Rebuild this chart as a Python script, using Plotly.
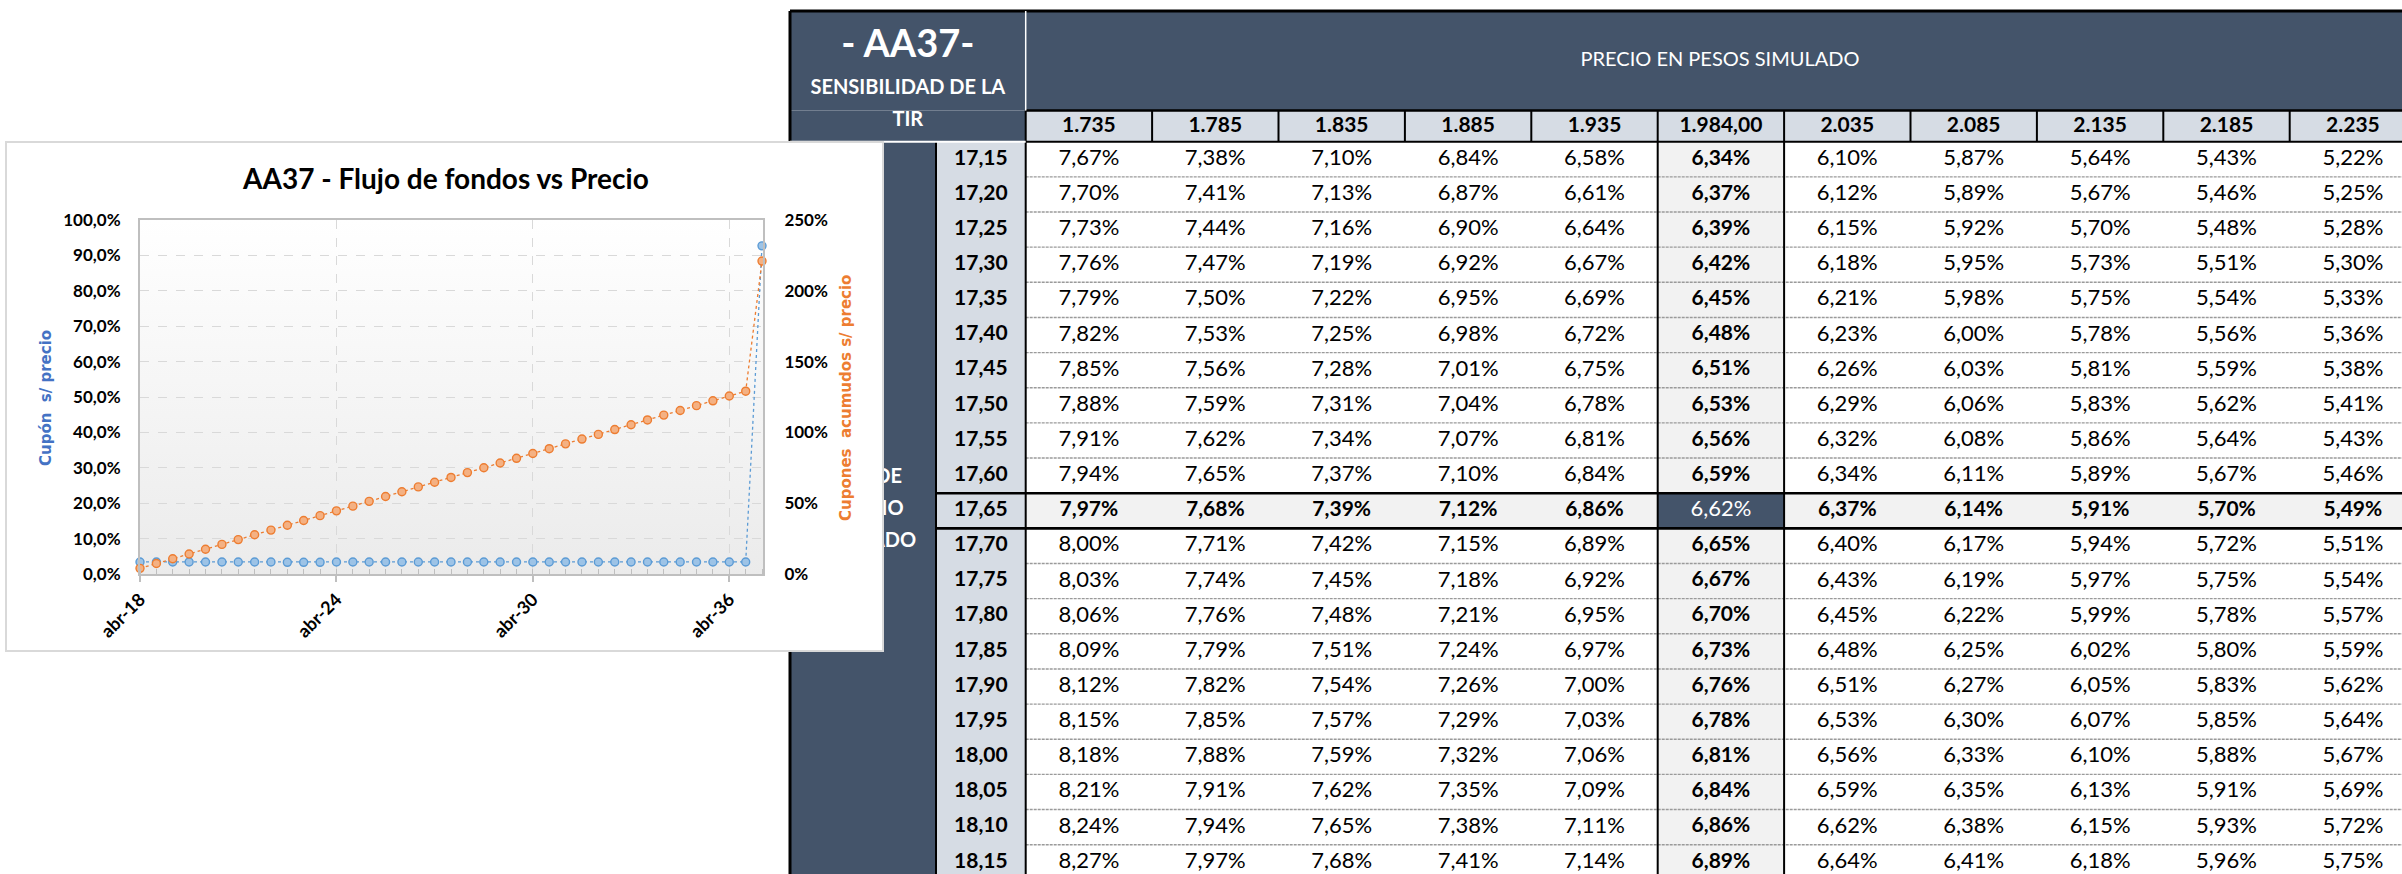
import base64
import plotly.graph_objects as go

# ------------------------------------------------------------------ chart data
fechas = [
    "2018-04-01", "2018-10-01", "2019-04-01", "2019-10-01", "2020-04-01", "2020-10-01",
    "2021-04-01", "2021-10-01", "2022-04-01", "2022-10-01", "2023-04-01", "2023-10-01",
    "2024-04-01", "2024-10-01", "2025-04-01", "2025-10-01", "2026-04-01", "2026-10-01",
    "2027-04-01", "2027-10-01", "2028-04-01", "2028-10-01", "2029-04-01", "2029-10-01",
    "2030-04-01", "2030-10-01", "2031-04-01", "2031-10-01", "2032-04-01", "2032-10-01",
    "2033-04-01", "2033-10-01", "2034-04-01", "2034-10-01", "2035-04-01", "2035-10-01",
    "2036-04-01", "2036-10-01", "2037-04-01",
]
cupon_s_precio = [
    3.4, 3.4, 3.4, 3.4, 3.4, 3.4, 3.4, 3.4, 3.4, 3.3, 3.3, 3.3, 3.4,
    3.4, 3.4, 3.4, 3.4, 3.4, 3.4, 3.4, 3.4, 3.4, 3.4, 3.4, 3.4, 3.4,
    3.4, 3.4, 3.4, 3.4, 3.4, 3.4, 3.4, 3.4, 3.4, 3.4, 3.4, 3.4, 92.7,
]
cupones_acumulados = [
    4.0, 7.4, 10.8, 14.1, 17.5, 20.9, 24.3, 27.7, 31.0, 34.4, 37.8, 41.2, 44.6,
    47.9, 51.3, 54.7, 58.1, 61.5, 64.8, 68.2, 71.6, 75.0, 78.4, 81.7, 85.1, 88.5,
    91.9, 95.3, 98.6, 102.0, 105.4, 108.8, 112.2, 115.5, 118.9, 122.3, 125.7, 129.1, 221.0,
]
x_tickvals = ["2018-04-01", "2024-04-01", "2030-04-01", "2036-04-01"]
x_ticktext = ["abr-18", "abr-24", "abr-30", "abr-36"]

chart_title = "AA37 - Flujo de fondos vs Precio"
y_left_title = "Cupón  s/ precio"
y_right_title = "Cupones  acumudos s/ precio"

# ------------------------------------------------------------------ table data
table_title = "- AA37-"
table_subtitle = ["SENSIBILIDAD DE LA", "TIR"]
col_group_title = "PRECIO EN PESOS SIMULADO"
row_group_title = ["TIPO DE", "CAMBIO", "SIMULADO"]
precios = ["1.735", "1.785", "1.835", "1.885", "1.935", "1.984,00",
           "2.035", "2.085", "2.135", "2.185", "2.235"]
tipos_cambio = ["17,15", "17,20", "17,25", "17,30", "17,35", "17,40", "17,45",
                "17,50", "17,55", "17,60", "17,65", "17,70", "17,75", "17,80",
                "17,85", "17,90", "17,95", "18,00", "18,05", "18,10", "18,15"]
tir = [
    [7.67, 7.38, 7.10, 6.84, 6.58, 6.34, 6.10, 5.87, 5.64, 5.43, 5.22],
    [7.70, 7.41, 7.13, 6.87, 6.61, 6.37, 6.12, 5.89, 5.67, 5.46, 5.25],
    [7.73, 7.44, 7.16, 6.90, 6.64, 6.39, 6.15, 5.92, 5.70, 5.48, 5.28],
    [7.76, 7.47, 7.19, 6.92, 6.67, 6.42, 6.18, 5.95, 5.73, 5.51, 5.30],
    [7.79, 7.50, 7.22, 6.95, 6.69, 6.45, 6.21, 5.98, 5.75, 5.54, 5.33],
    [7.82, 7.53, 7.25, 6.98, 6.72, 6.48, 6.23, 6.00, 5.78, 5.56, 5.36],
    [7.85, 7.56, 7.28, 7.01, 6.75, 6.51, 6.26, 6.03, 5.81, 5.59, 5.38],
    [7.88, 7.59, 7.31, 7.04, 6.78, 6.53, 6.29, 6.06, 5.83, 5.62, 5.41],
    [7.91, 7.62, 7.34, 7.07, 6.81, 6.56, 6.32, 6.08, 5.86, 5.64, 5.43],
    [7.94, 7.65, 7.37, 7.10, 6.84, 6.59, 6.34, 6.11, 5.89, 5.67, 5.46],
    [7.97, 7.68, 7.39, 7.12, 6.86, 6.62, 6.37, 6.14, 5.91, 5.70, 5.49],
    [8.00, 7.71, 7.42, 7.15, 6.89, 6.65, 6.40, 6.17, 5.94, 5.72, 5.51],
    [8.03, 7.74, 7.45, 7.18, 6.92, 6.67, 6.43, 6.19, 5.97, 5.75, 5.54],
    [8.06, 7.76, 7.48, 7.21, 6.95, 6.70, 6.45, 6.22, 5.99, 5.78, 5.57],
    [8.09, 7.79, 7.51, 7.24, 6.97, 6.73, 6.48, 6.25, 6.02, 5.80, 5.59],
    [8.12, 7.82, 7.54, 7.26, 7.00, 6.76, 6.51, 6.27, 6.05, 5.83, 5.62],
    [8.15, 7.85, 7.57, 7.29, 7.03, 6.78, 6.53, 6.30, 6.07, 5.85, 5.64],
    [8.18, 7.88, 7.59, 7.32, 7.06, 6.81, 6.56, 6.33, 6.10, 5.88, 5.67],
    [8.21, 7.91, 7.62, 7.35, 7.09, 6.84, 6.59, 6.35, 6.13, 5.91, 5.69],
    [8.24, 7.94, 7.65, 7.38, 7.11, 6.86, 6.62, 6.38, 6.15, 5.93, 5.72],
    [8.27, 7.97, 7.68, 7.41, 7.14, 6.89, 6.64, 6.41, 6.18, 5.96, 5.75],
]
col_actual = 5
row_actual = 10

# ------------------------------------------------------------------ style / layout
W, H = 2402, 874
FONT = "Lato, Carlito, 'Open Sans', sans-serif"
TITLE_FONT = "'DejaVu Sans', Verdana, sans-serif"
NAVY = "#44546A"
LIGHT = "#D6DCE4"
GREY = "#F2F2F2"
BLUE = "#5B9BD5"
ORANGE = "#ED7D31"

# table geometry (pixels) -> table axis units (1 unit = 1 data column / 1 row)
DATA_X0, COL_W = 1025.7, 126.4
ROW_Y0, ROW_H = 141.7, 35.15
def cx(px):
    return (px - DATA_X0) / COL_W
def cy(py):
    return (py - ROW_Y0) / ROW_H

NAVY_L = cx(790)
LABEL_L = cx(936)
TOP = cy(11)
HDR = cy(110.5)
NCOL = len(precios)
NROW = len(tipos_cambio)
RIGHT = NCOL + 0.5

shapes = []
def rect(x0, x1, y0, y1, fill):
    shapes.append(dict(type="rect", xref="x", yref="y", x0=x0, x1=x1, y0=y0, y1=y1,
                       fillcolor=fill, line=dict(width=0), layer="below"))
def line(x0, x1, y0, y1, color, width, dash="solid"):
    shapes.append(dict(type="line", xref="x", yref="y", x0=x0, x1=x1, y0=y0, y1=y1,
                       line=dict(color=color, width=width, dash=dash), layer="below"))

# fills
rect(NAVY_L, RIGHT, TOP, HDR, NAVY)
rect(NAVY_L, 0, HDR, 0, NAVY)
rect(NAVY_L, LABEL_L, 0, NROW + 1, NAVY)
rect(LABEL_L, 0, 0, NROW + 1, LIGHT)
rect(0, RIGHT, HDR, 0, LIGHT)
rect(col_actual, col_actual + 1, 0, NROW + 1, GREY)
rect(0, RIGHT, row_actual, row_actual + 1, GREY)
rect(col_actual, col_actual + 1, row_actual, row_actual + 1, NAVY)
# row separators
for i in range(1, NROW + 1):
    if i in (row_actual, row_actual + 1):
        continue
    line(0, RIGHT, i, i, "#9A9A9A", 1.4, "3px,1px")
# borders
line(LABEL_L, RIGHT, row_actual, row_actual, "#000000", 2.6)
line(LABEL_L, RIGHT, row_actual + 1, row_actual + 1, "#000000", 2.6)
line(NAVY_L, RIGHT, TOP, TOP, "#000000", 3)
line(NAVY_L, NAVY_L, TOP, NROW + 1, "#000000", 3)
line(0, RIGHT, HDR, HDR, "#000000", 2.6)
line(0, RIGHT, 0, 0, "#000000", 2)
for j in range(0, NCOL + 1):
    line(j, j, HDR, 0, "#000000", 2)
line(0, 0, 0, NROW + 1, "#000000", 2)
line(col_actual, col_actual, 0, NROW + 1, "#000000", 2)
line(col_actual + 1, col_actual + 1, 0, NROW + 1, "#000000", 2)
line(LABEL_L, LABEL_L, 0, NROW + 1, "#000000", 2)
line(NAVY_L, 0, 0, 0, "#FFFFFF", 2)
line(0, 0, TOP, HDR, "#FFFFFF", 1.5)

def pct(v):
    return f"{v:.2f}".replace(".", ",") + "%"

fig = go.Figure()

def text_trace(xs, ys, texts, size, color, bold):
    t = [f"<b>{s}</b>" if bold else s for s in texts]
    fig.add_trace(go.Scatter(x=xs, y=ys, text=t, mode="text", textposition="middle center",
                             textfont=dict(family=FONT, size=size, color=color),
                             xaxis="x", yaxis="y", hoverinfo="skip", showlegend=False,
                             cliponaxis=True))

# table texts
nx, ny, nt = [], [], []
bx, by, bt = [], [], []
wx, wy, wt = [], [], []
for i, fila in enumerate(tir):
    for j, v in enumerate(fila):
        if i == row_actual and j == col_actual:
            wx.append(j + 0.5); wy.append(i + 0.5); wt.append(pct(v))
        elif i == row_actual or j == col_actual:
            bx.append(j + 0.5); by.append(i + 0.5); bt.append(pct(v))
        else:
            nx.append(j + 0.5); ny.append(i + 0.5); nt.append(pct(v))
VAL = 22
BOLD = 21
text_trace(nx, ny, nt, VAL, "#000000", False)
text_trace(bx, by, bt, BOLD, "#000000", True)
text_trace(wx, wy, wt, VAL, "#FFFFFF", False)
text_trace([j + 0.5 for j in range(NCOL)], [cy(127)] * NCOL, precios, BOLD, "#000000", True)
text_trace([LABEL_L / 2] * NROW, [i + 0.5 for i in range(NROW)], tipos_cambio, BOLD, "#000000", True)
text_trace([NAVY_L / 2], [cy(47)], [table_title], 38, "#FFFFFF", True)
text_trace([NAVY_L / 2] * 2, [cy(89), cy(121)], table_subtitle, 20, "#FFFFFF", True)
text_trace([cx(1720)], [cy(61)], [col_group_title], 20, "#FFFFFF", False)
text_trace([(NAVY_L + LABEL_L) / 2] * 3, [cy(478), cy(510), cy(542)], row_group_title, 20, "#FFFFFF", True)

# chart box (subplot that covers the table)
fig.add_trace(go.Scatter(x=[None], y=[None], xaxis="x2", yaxis="y2", showlegend=False, hoverinfo="skip"))

# chart series
fig.add_trace(go.Scatter(
    x=fechas, y=cupon_s_precio, xaxis="x3", yaxis="y3", mode="lines+markers",
    line=dict(color=BLUE, width=1.3, dash="dot"),
    marker=dict(size=8, color="#9DC3E6", line=dict(color=BLUE, width=1.4)),
    cliponaxis=False, showlegend=False, name=y_left_title))
fig.add_trace(go.Scatter(
    x=fechas, y=cupones_acumulados, xaxis="x3", yaxis="y4", mode="lines+markers",
    line=dict(color=ORANGE, width=1.3, dash="dot"),
    marker=dict(size=8, color="#F4B183", line=dict(color=ORANGE, width=1.4)),
    cliponaxis=False, showlegend=False, name=y_right_title))

# gradient for the plot area
svg = ("<svg xmlns='http://www.w3.org/2000/svg' width='100' height='100' preserveAspectRatio='none'>"
       "<defs><linearGradient id='g' x1='0' y1='0' x2='0' y2='1'>"
       "<stop offset='0' stop-color='#FFFFFF'/><stop offset='1' stop-color='#EBEBEB'/>"
       "</linearGradient></defs><rect width='100' height='100' fill='url(#g)'/></svg>")
grad_src = "data:image/svg+xml;base64," + base64.b64encode(svg.encode()).decode()

BOX = (7, 882, 143, 650)
PLOT = (140, 763, 220, 574)
def px_dom(a, b):
    return [a / W, b / W]
def py_dom(top, bottom):
    return [1 - bottom / H, 1 - top / H]

tick_font = dict(family=FONT, size=17, color="#000000", weight="bold")
hidden = dict(visible=False, fixedrange=True, automargin=False)
box_ax = dict(showline=True, mirror=True, linecolor="#D9D9D9", linewidth=1.5, showgrid=False,
              zeroline=False, showticklabels=False, ticks="", fixedrange=True, automargin=False,
              range=[0, 1])
fig.update_layout(
    template="none",
    width=W, height=H, autosize=False,
    margin=dict(l=0, r=0, t=0, b=0, pad=0, autoexpand=False),
    paper_bgcolor="#FFFFFF", plot_bgcolor="#FFFFFF",
    separators=",.", showlegend=False,
    xaxis=dict(domain=[0, 1], range=[cx(0), cx(W)], **hidden),
    yaxis=dict(domain=[0, 1], range=[cy(H), cy(0)], **hidden),
    xaxis2=dict(domain=px_dom(BOX[0], BOX[1]), anchor="y2", **box_ax),
    yaxis2=dict(domain=py_dom(BOX[2], BOX[3]), anchor="x2", **box_ax),
    xaxis3=dict(domain=px_dom(PLOT[0], PLOT[1]), anchor="y3", type="date",
                range=["2018-04-01", "2037-04-12"], tickmode="array",
                tickvals=x_tickvals, ticktext=x_ticktext, tickangle=-45,
                tickfont=dict(family=FONT, size=18, color="#000000", weight="bold"),
                ticks="outside", ticklen=6, tickcolor="#BFBFBF", tickwidth=1.5,
                minor=dict(ticks="inside", ticklen=5, tickcolor="#BFBFBF", tickwidth=1,
                           dtick="M6", tick0="2018-04-01", showgrid=False),
                showline=True, linecolor="#BFBFBF", linewidth=2, mirror=True,
                showgrid=True, gridcolor="#D9D9D9", griddash="dash", gridwidth=1.2,
                zeroline=False, fixedrange=True, automargin=False),
    yaxis3=dict(domain=py_dom(PLOT[2], PLOT[3]), anchor="x3", range=[0, 100], dtick=10,
                tickformat=".1f", ticksuffix="%", tickfont=tick_font, ticks="",
                ticklabelstandoff=14,
                showline=True, linecolor="#BFBFBF", linewidth=2,
                showgrid=True, gridcolor="#D9D9D9", griddash="dash", gridwidth=1.2,
                zeroline=False, fixedrange=True, automargin=False),
    yaxis4=dict(overlaying="y3", side="right", anchor="x3", range=[0, 250], dtick=50,
                tickformat="d", ticksuffix="%", tickfont=tick_font, ticks="",
                ticklabelstandoff=16,
                showline=True, linecolor="#BFBFBF", linewidth=2,
                showgrid=False, zeroline=False, fixedrange=True, automargin=False),
    shapes=shapes,
    images=[dict(source=grad_src, xref="x3 domain", yref="y3 domain", x=0, y=1,
                 sizex=1, sizey=1, xanchor="left", yanchor="top", sizing="stretch",
                 layer="below", opacity=1)],
    annotations=[
        dict(text=f"<b>{chart_title}</b>", xref="paper", yref="paper", x=445 / W, y=1 - 178 / H,
             xanchor="center", yanchor="middle", showarrow=False,
             font=dict(family=FONT, size=28, color="#000000")),
        dict(text=f"<b>{y_left_title}</b>", xref="paper", yref="paper", x=46 / W, y=1 - 398 / H,
             xanchor="center", yanchor="middle", showarrow=False, textangle=-90,
             font=dict(family=TITLE_FONT, size=15, color="#4472C4")),
        dict(text=f"<b>{y_right_title}</b>", xref="paper", yref="paper", x=846 / W, y=1 - 398 / H,
             xanchor="center", yanchor="middle", showarrow=False, textangle=-90,
             font=dict(family=TITLE_FONT, size=15, color=ORANGE)),
    ],
)

fig.write_html("out.html", config={"displayModeBar": False},
               post_script="document.body.style.margin='0';")
